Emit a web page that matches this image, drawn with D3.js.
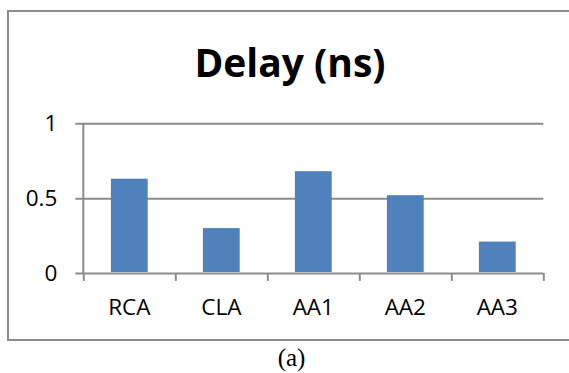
<!DOCTYPE html>
<html>
<head>
<meta charset="utf-8">
<script src="https://cdn.jsdelivr.net/npm/d3@7/dist/d3.min.js"></script>
<style>
  html, body { margin: 0; padding: 0; background: #fff; }
  svg { display: block; }
</style>
</head>
<body>
<svg id="chart" width="569" height="373"></svg>
<script>
// Adder delay comparison
const categories = ["RCA", "CLA", "AA1", "AA2", "AA3"];
const delayNs = [0.63, 0.30, 0.68, 0.52, 0.21];
const yTicks = [0, 0.5, 1];
const titleText = "Delay (ns)";
const captionText = "(a)";

const svg = d3.select("#chart");

const plot = { left: 83.3, right: 543.3, top: 123.3, bottom: 273 };
const gridColor = "#8c8c8c";
const lineW = 2;

// outer chart frame (open on the right, runs off the page)
svg.append("rect")
  .attr("x", 8).attr("y", 11)
  .attr("width", 600).attr("height", 329)
  .attr("fill", "none")
  .attr("stroke", "#8c8c8c")
  .attr("stroke-width", 2);

const y = d3.scaleLinear().domain([0, 1]).range([plot.bottom, plot.top]);
const x = d3.scaleBand()
  .domain(categories)
  .range([plot.left, plot.right])
  .paddingInner(0.6)
  .paddingOuter(0.3);

// horizontal gridlines + y tick labels
const tickOut = 8;
const yAxis = d3.axisLeft(y)
  .tickValues(yTicks)
  .tickSize(plot.right - plot.left + tickOut)
  .tickPadding(18)
  .tickFormat(d3.format("~g"));
const gy = svg.append("g")
  .attr("transform", `translate(${plot.right},0)`)
  .call(yAxis);
gy.select(".domain").remove();
gy.selectAll(".tick line").attr("stroke", gridColor).attr("stroke-width", lineW);
gy.selectAll(".tick text")
  .attr("fill", "#000")
  .style("font-family", "'Open Sans', sans-serif")
  .style("font-size", "22.5px");

// vertical value axis line
svg.append("line")
  .attr("x1", plot.left).attr("x2", plot.left)
  .attr("y1", y(1)).attr("y2", y(0))
  .attr("stroke", gridColor).attr("stroke-width", lineW);

// bars
svg.append("g").selectAll("rect")
  .data(categories.map((c, i) => ({ c, v: delayNs[i] })))
  .join("rect")
  .attr("x", d => x(d.c))
  .attr("y", d => y(d.v))
  .attr("width", x.bandwidth())
  .attr("height", d => y(0) - y(d.v) - 1)
  .attr("fill", "#4F81BD");

// category boundary ticks along the bottom axis
const bounds = d3.scaleLinear().domain([0, categories.length]).range([plot.left, plot.right]);
const xTickAxis = d3.axisBottom(bounds)
  .tickValues(d3.range(categories.length + 1))
  .tickSize(tickOut)
  .tickFormat("");
const gxt = svg.append("g")
  .attr("transform", `translate(0,${plot.bottom})`)
  .call(xTickAxis);
gxt.select(".domain").remove();
gxt.selectAll(".tick line").attr("stroke", gridColor).attr("stroke-width", lineW);

// category labels
const gx = svg.append("g")
  .attr("transform", `translate(0,${plot.bottom})`)
  .call(d3.axisBottom(x).tickSize(0).tickPadding(26));
gx.select(".domain").remove();
gx.selectAll(".tick text")
  .attr("fill", "#000")
  .style("font-family", "'Open Sans', sans-serif")
  .style("font-size", "22.5px");

// title
svg.append("text")
  .attr("x", 290).attr("y", 77)
  .attr("text-anchor", "middle")
  .style("font-family", "'Open Sans', sans-serif")
  .style("font-weight", "bold")
  .style("font-size", "39px")
  .attr("fill", "#000")
  .text(titleText);

// caption below the frame
svg.append("text")
  .attr("x", 291.5).attr("y", 366)
  .attr("text-anchor", "middle")
  .style("font-family", "'Liberation Serif', 'Times New Roman', serif")
  .style("font-size", "25px")
  .attr("fill", "#000")
  .text(captionText);
</script>
</body>
</html>
